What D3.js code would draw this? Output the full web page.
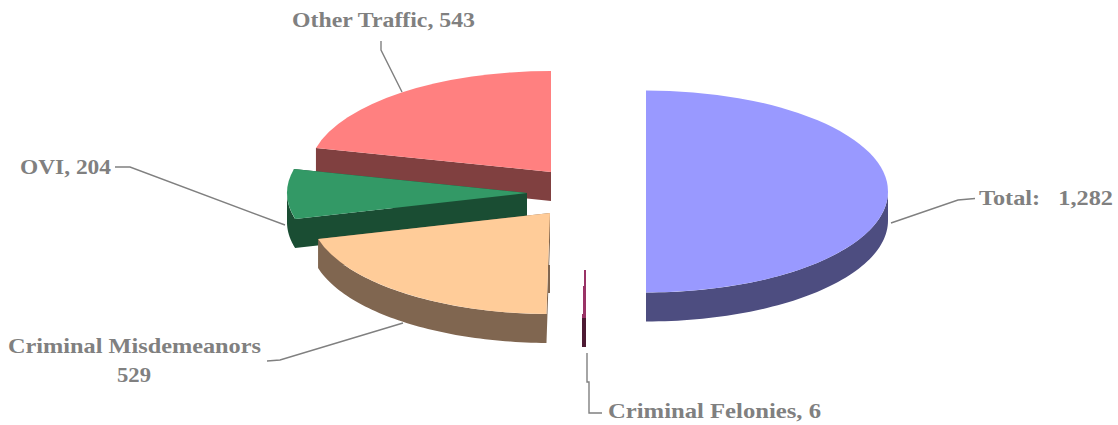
<!DOCTYPE html>
<html><head><meta charset="utf-8">
<script src="https://cdn.jsdelivr.net/npm/d3@7/dist/d3.min.js"></script>
<style>html,body{margin:0;background:#fff}svg{display:block}text{font-family:"Liberation Serif",serif;font-weight:bold;fill:#808080;font-size:22px}</style>
</head><body><svg id="c" width="1118" height="425"></svg>
<script>
const categories = ["Total:", "Criminal Felonies", "Criminal Misdemeanors", "OVI", "Other Traffic"];
const seriesValues = [1282, 6, 529, 204, 543];
const topColors = ["#9999FF", "#993366", "#FFCC99", "#339966", "#FF8080"];
const sideColors = ["#4D4D80", "#4D1A33", "#806650", "#1A4D33", "#804040"];
const centers = [[646,191.5],[586,217],[550,213],[527,193],[551,172]];
const radiiX = [242,242,240,240,242];
const RY = 101, DEPTH = 29;

const svg = d3.select("#c");
const slices = d3.pie().sort(null).value(d => d)(seriesValues);
const arc = d3.arc().innerRadius(0).outerRadius(1);
const line = d3.line();
const px = (i,a) => centers[i][0] + radiiX[i]*Math.sin(a);
const py = (i,a) => centers[i][1] - RY*Math.cos(a);

function wallPath(i, s) {
  const parts = [];
  const [cx, cy] = centers[i];
  const a0 = Math.max(s.startAngle, Math.PI/2), a1 = Math.min(s.endAngle, 3*Math.PI/2);
  if (a1 > a0) {
    const as = d3.range(0, 61).map(k => a0 + (a1-a0)*k/60);
    const up = as.map(a => [px(i,a), py(i,a)]);
    const dn = as.map(a => [px(i,a), py(i,a)+DEPTH]).reverse();
    parts.push(line(up.concat(dn)) + "Z");
  }
  for (const a of [s.startAngle, s.endAngle]) {
    parts.push(line([[cx,cy],[px(i,a),py(i,a)],[px(i,a),py(i,a)+DEPTH],[cx,cy+DEPTH]]) + "Z");
  }
  return parts.join("");
}

// back to front: red, green, peach, felony, blue
[4,3,2,1,0].forEach(i => {
  const s = slices[i];
  const g = svg.append("g").attr("shape-rendering", i===1 ? "crispEdges" : "auto");
  g.append("path").attr("d", wallPath(i, s)).attr("fill", sideColors[i]);
  g.append("path")
    .attr("transform", `translate(${centers[i]}) scale(${radiiX[i]},${RY})`)
    .attr("d", arc(s)).attr("fill", topColors[i]);
});
// mask the thin tip of the felony slice
svg.append("rect").attr("x", centers[1][0]-5).attr("y", centers[1][1]-2).attr("width",10).attr("height",55).attr("fill","#fff");
// small side sliver at the peach cut
svg.append("rect").attr("x", centers[2][0]-2).attr("y", centers[2][1]+RY-49).attr("width",2).attr("height",DEPTH-1).attr("fill",sideColors[2]);

const leaderLines = [
  [[381,41],[381,50],[402,92]],
  [[115,167],[130,167],[285,225]],
  [[975,198.5],[958,200],[891,223]],
  [[267,361],[280,360],[403,323]],
  [[587,353],[587,382],[589,382],[589,413],[602,413]]
];
svg.selectAll("path.lead").data(leaderLines).join("path").attr("class","lead")
  .attr("d", d=>line(d)).attr("fill","none").attr("stroke","#808080").attr("stroke-width",1.4);

const labelTexts = ["Other Traffic, 543","OVI, 204","Total:   1,282","Criminal Misdemeanors","529","Criminal Felonies, 6"];
const labelX = [292,20,979,8,117,608];
const labelY = [27,174,205,353,382,418];
const labelW = [183,91,134,253,34,213];
svg.selectAll("text").data(labelTexts).join("text")
  .attr("x",(d,i)=>labelX[i]).attr("y",(d,i)=>labelY[i])
  .attr("textLength",(d,i)=>labelW[i]).attr("lengthAdjust","spacingAndGlyphs")
  .style("white-space","pre").text(d=>d);
</script></body></html>
